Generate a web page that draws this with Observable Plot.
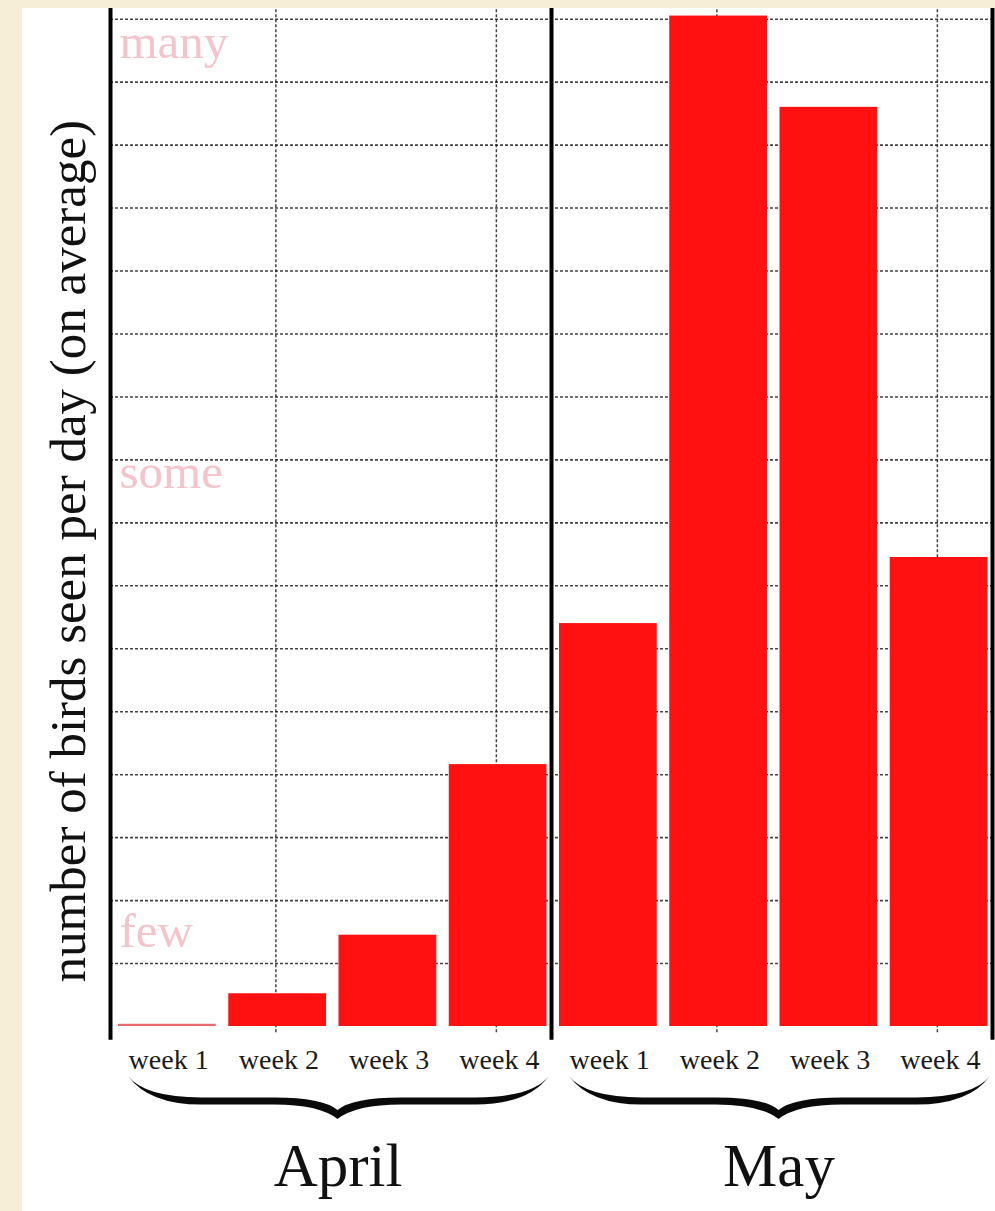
<!DOCTYPE html>
<html>
<head>
<meta charset="utf-8">
<script src="https://cdn.jsdelivr.net/npm/d3@7"></script>
<script src="https://cdn.jsdelivr.net/npm/@observablehq/plot@0.6"></script>
<style>
  html, body { margin: 0; padding: 0; background: #f7eed7; }
  #chart { position: absolute; left: 22px; top: 8px; }
  #chart svg { display: block; background: #ffffff; }
</style>
</head>
<body>
<div id="chart"></div>
<script>
// ---- data ----
const months = ["April", "May"];
const weeks = ["week 1", "week 2", "week 3", "week 4"];
const aprilValues = [0.035, 0.52, 1.45, 4.16];
const mayValues = [6.40, 16.05, 14.60, 7.45];
const gridYTicks = [1, 2, 3, 4, 5, 6, 7, 8, 9, 10, 11, 12, 13, 14, 15, 16];
const levelLabels = ["few", "some", "many"];
const levelValues = [1.26, 8.55, 15.38];
const yLabel = "number of birds seen per day (on average)";
const yMax = 16.17;

// table built from the arrays
const monthValues = [aprilValues, mayValues];
const rows = [];
months.forEach((m, mi) => weeks.forEach((w, wi) => {
  rows.push({month: m, week: w, pos: mi * weeks.length + wi, value: monthValues[mi][wi]});
}));
const nBars = rows.length;
const monthRows = months.map((m, mi) => ({month: m, start: mi * weeks.length, end: (mi + 1) * weeks.length}));
// vertical grid at week 2 / week 4 centres
const gridXTicks = rows.filter(r => r.week === "week 2" || r.week === "week 4").map(r => r.pos + 0.5);
const boundaries = [0, ...monthRows.map(d => d.end)];

const serif = "'Liberation Serif', 'Times New Roman', serif";

const plot = Plot.plot({
  width: 973,
  height: 1203,
  marginLeft: 88,
  marginRight: 3,
  marginTop: 0,
  marginBottom: 185,
  style: {fontFamily: serif, background: "#ffffff", overflow: "visible"},
  x: {domain: [0, nBars], axis: null},
  y: {domain: [0, yMax], axis: null},
  marks: [
    Plot.ruleY(gridYTicks, {x1: 0, x2: nBars, stroke: "#222", strokeWidth: 1.6, strokeDasharray: "3,2", strokeOpacity: 0.85}),
    Plot.ruleX(gridXTicks, {y1: -0.1, y2: yMax, stroke: "#222", strokeWidth: 1.5, strokeDasharray: "3,2", strokeOpacity: 0.85}),
    Plot.rectY(rows, {
      x1: "pos", x2: d => d.pos + 1, y1: 0, y2: "value",
      insetLeft: 8, insetRight: 4.5,
      fill: d => d.value < 0.1 ? "#e86a6a" : "#ff1111"
    }),
    Plot.ruleX(boundaries, {y1: -0.22, y2: yMax, stroke: "#000", strokeWidth: 4}),
    Plot.text(levelValues, {
      x: 0, y: d => d, text: (d, i) => levelLabels[i],
      dx: 9, textAnchor: "start", lineAnchor: "bottom",
      fontFamily: serif, fontSize: 49, fill: "#f5c3ca"
    }),
    Plot.text(rows, {
      x: d => d.pos + 0.5, y: 0, text: "week",
      dx: 3, dy: 42, lineAnchor: "bottom", textAnchor: "middle",
      fontFamily: serif, fontSize: 28, fill: "#1a1a1a"
    }),
    Plot.text(monthRows, {
      x: d => (d.start + d.end) / 2, y: 0, text: "month",
      dx: 7, dy: 159, lineAnchor: "bottom", textAnchor: "middle",
      fontFamily: serif, fontSize: 61, fill: "#111"
    }),
    Plot.text([yLabel], {
      x: 0, y: 7.55, text: d => d,
      dx: -26, rotate: -90, lineAnchor: "bottom", textAnchor: "middle",
      fontFamily: serif, fontSize: 51, fill: "#111"
    })
  ]
});

document.getElementById("chart").appendChild(plot);

// curly braces under each month, positioned from the plot's own scales
const xs = plot.scale("x"), ys = plot.scale("y");
const Y0 = ys.apply(0);
function bracePath(x1, x2, xm) {
  const y0 = Y0 + 50, yb = Y0 + 75, ytip = Y0 + 93, t = 3.6;
  const L = xm - x1, R = x2 - xm;
  return [
    `M${x1},${y0}`,
    `Q${x1 + 0.08 * L},${yb - t} ${x1 + 0.35 * L},${yb - t}`,
    `L${xm - 0.3 * L},${yb - t}`,
    `Q${xm - 0.07 * L},${yb - t} ${xm},${ytip - 9}`,
    `Q${xm + 0.07 * R},${yb - t} ${xm + 0.3 * R},${yb - t}`,
    `L${x2 - 0.35 * R},${yb - t}`,
    `Q${x2 - 0.08 * R},${yb - t} ${x2},${y0}`,
    `Q${x2 - 0.1 * R},${yb + t} ${x2 - 0.35 * R},${yb + t}`,
    `L${xm + 0.3 * R},${yb + t}`,
    `Q${xm + 0.09 * R},${yb + t} ${xm},${ytip}`,
    `Q${xm - 0.09 * L},${yb + t} ${xm - 0.3 * L},${yb + t}`,
    `L${x1 + 0.35 * L},${yb + t}`,
    `Q${x1 + 0.1 * L},${yb + t} ${x1},${y0}`,
    "Z"
  ].join(" ");
}
const g = d3.select(plot).append("g").attr("class", "braces");
monthRows.forEach(d => {
  const x1 = xs.apply(d.start) + 18;
  const x2 = xs.apply(d.end) - 2;
  const xm = xs.apply((d.start + d.end) / 2) + 7;
  g.append("path").attr("d", bracePath(x1, x2, xm)).attr("fill", "#0a0a0a");
});
</script>
</body>
</html>
